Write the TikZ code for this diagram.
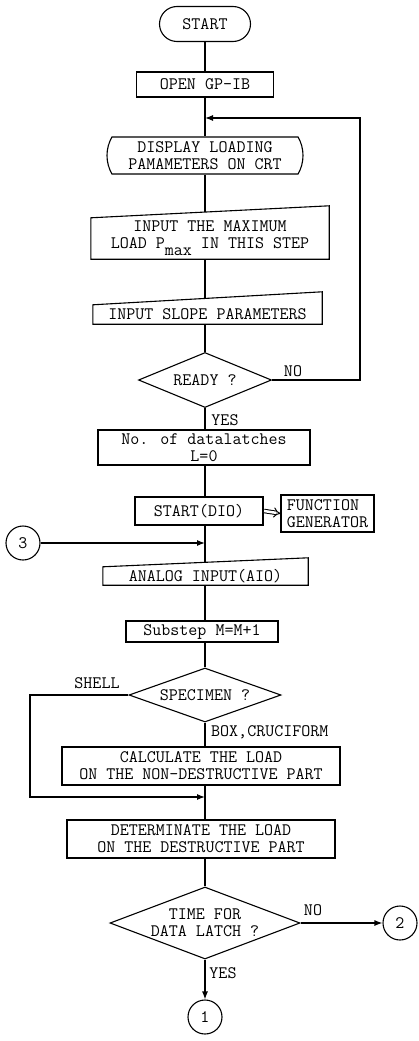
\documentclass[tikz,border=0pt]{standalone}
\usepackage{fontspec}
\usetikzlibrary{shapes.geometric,shapes.misc,arrows.meta,calc}
\pgfdeclarelayer{conn}
\pgfdeclarelayer{shp}
\pgfsetlayers{conn,shp,main}
\begin{document}
\begin{tikzpicture}[x=1pt,y=-1pt,
  every node/.style={font={\ttfamily\fontsize{17.5}{17}\selectfont}},
  line/.style={line width=1.2pt},
  arr/.style={line width=1.2pt,-{Latex[length=8pt,width=6pt]}},
  box/.style={draw,fill=white,line width=1.1pt,inner sep=0pt,align=center},
  minput/.style={inner sep=0pt,align=center},
  mishape/.style={draw,fill=white,line width=1.1pt},
  dec/.style={diamond,draw,fill=white,line width=1.1pt,inner sep=0pt,align=center},
  conn/.style={circle,draw,fill=white,line width=1.1pt,minimum size=34pt,inner sep=0pt},
  lbl/.style={inner sep=0pt}]
\useasboundingbox (0,0) rectangle (418,1041);
% nodes
\node[box, rounded rectangle, minimum width=91pt, minimum height=35pt] (start) at (205,24) {START};
\node[box, minimum width=137pt, minimum height=25pt] (open) at (205,84.5) {OPEN GP-IB};
\node[box, rounded rectangle, rounded rectangle arc length=60, minimum width=196pt, minimum height=37pt] (disp) at (205,155.5) {DISPLAY LOADING\\PAMAMETERS ON CRT};
\node[minput, minimum width=238pt, minimum height=41pt] (inmax) at (210,238.5) {INPUT THE MAXIMUM\\LOAD P\raisebox{-7pt}{max} IN THIS STEP};
\node[minput, minimum width=229pt, minimum height=19pt] (slope) at (207.5,314.5) {INPUT SLOPE PARAMETERS};
\node[dec, aspect=2.5, minimum width=133pt, minimum height=55pt] (ready) at (205,380) {READY ?};
\node[box, minimum width=212pt, minimum height=35pt] (datal) at (204,447.5) {No. of datalatches\\L=0};
\node[box, line width=2.2pt, minimum width=128pt, minimum height=28pt] (dio) at (199,511) {START(DIO)};
\node[box, align=left, minimum width=93pt, minimum height=37pt] (fg) at (327.5,513.5) {FUNCTION\\GENERATOR};
\node[conn] (c3) at (23,543) {3};
\node[minput, minimum width=205pt, minimum height=18pt] (aio) at (205.5,576) {ANALOG INPUT(AIO)};
\node[box, minimum width=152pt, minimum height=21pt] (sub) at (202,631.5) {Substep M=M+1};
\node[dec, aspect=2.8, minimum width=152pt, minimum height=54pt] (spec) at (205,695) {SPECIMEN ?};
\node[box, minimum width=278pt, minimum height=38pt] (calc) at (201,766) {CALCULATE THE LOAD\\ON THE NON-DESTRUCTIVE PART};
\node[box, minimum width=268pt, minimum height=38pt] (det) at (201,839) {DETERMINATE THE LOAD\\ON THE DESTRUCTIVE PART};
\node[dec, aspect=2.64, minimum width=190pt, minimum height=72pt] (time) at (205,923) {TIME FOR\\DATA LATCH ?};
\node[conn] (c2) at (400,923) {2};
\node[conn] (c1) at (205,1017) {1};
% labels
\node[lbl] (no1) at (293,371) {NO};
\node[lbl] (yes1) at (225,420) {YES};
\node[lbl] (shell) at (97,683) {SHELL};
\node[lbl, anchor=west] (boxc) at (211,732) {BOX,CRUCIFORM};
\node[lbl] (no2) at (313,910) {NO};
\node[lbl] (yes2) at (223,973) {YES};
% helper coordinates
\coordinate (ax) at (205,0);
\coordinate (lp) at (360,118);
\coordinate (j1) at (205,118);
\coordinate (sh) at (30,797);
% manual input shapes
\begin{pgfonlayer}{shp}
\path[mishape] (inmax.south west) -- (inmax.south east) -- ($(inmax.north east)+(0,-12)$) -- (inmax.north west) -- cycle;
\path[mishape] (slope.south west) -- (slope.south east) -- ($(slope.north east)+(0,-13)$) -- (slope.north west) -- cycle;
\path[mishape] (aio.south west) -- (aio.south east) -- ($(aio.north east)+(0,-9)$) -- (aio.north west) -- cycle;
\end{pgfonlayer}
% connectors
\begin{pgfonlayer}{conn}
\foreach \a/\b in {start/open, open/disp, disp/inmax, inmax/slope, slope/ready, ready/datal, datal/dio, dio/aio, aio/sub, sub/spec, spec/calc, calc/det, det/time}
  \draw[line] (\a.south -| ax) -- (\b.north -| ax);
\draw[arr] (ready.east) -| (lp) -- (j1);
\draw[arr] (c3.east) -- (c3.east -| ax);
\draw[arr] (spec.west) -| (sh) -- (sh -| ax);
\draw[arr] (time.east) -- (c2.west);
\draw[arr] (time.south) -- (c1.north);
\end{pgfonlayer}
\draw[double, double distance=2.5pt, line width=1pt, -{Implies}] (dio.east) -- (fg.west);
\draw[line width=1.7pt] (fg.north east) -- (fg.south east) -- (fg.south west);
\end{tikzpicture}
\end{document}
